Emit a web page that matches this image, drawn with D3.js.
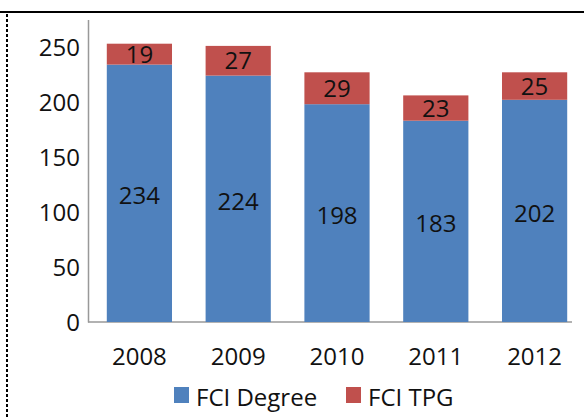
<!DOCTYPE html>
<html>
<head>
<meta charset="utf-8">
<script src="https://cdn.jsdelivr.net/npm/d3@7"></script>
<style>
  body { margin: 0; background: #fff; }
  text { font-family: "Open Sans", "DejaVu Sans", sans-serif; fill: #111; }
</style>
</head>
<body>
<div id="chart"></div>
<script>
// values
var years = ["2008", "2009", "2010", "2011", "2012"];
var degree = [234, 224, 198, 183, 202];
var tpg = [19, 27, 29, 23, 25];
var yTicks = [0, 50, 100, 150, 200, 250];
var seriesNames = ["FCI Degree", "FCI TPG"];
var seriesColors = ["#4F81BD", "#C0504D"];

var width = 584, height = 419;

var svg = d3.select("#chart").append("svg")
    .attr("width", width)
    .attr("height", height);

// frame: solid top rule, dotted left rule
svg.append("line")
    .attr("x1", 0).attr("x2", width)
    .attr("y1", 12).attr("y2", 12)
    .attr("stroke", "#000").attr("stroke-width", 2);
svg.append("line")
    .attr("x1", 7).attr("x2", 7)
    .attr("y1", 14).attr("y2", height)
    .attr("stroke", "#000").attr("stroke-width", 2)
    .attr("stroke-dasharray", "3,2");

var x = d3.scaleBand().domain(years).range([90, 584])
    .paddingInner(0.34).paddingOuter(0.17);
var y = d3.scaleLinear().domain([0, 275]).range([322, 19.5]);

var data = years.map(function(yr, i) {
    return { year: yr, degree: degree[i], tpg: tpg[i] };
});

// axes
var yAxis = svg.append("g")
    .attr("transform", "translate(88,0)")
    .call(d3.axisLeft(y).tickValues(yTicks).tickSize(0).tickPadding(8));
yAxis.select(".domain").attr("stroke", "#999").attr("stroke-width", 1.5);
yAxis.selectAll("text").style("font-size", "24px").attr("dy", "0.35em");

svg.append("line")
    .attr("x1", 88).attr("x2", 572)
    .attr("y1", y(0)).attr("y2", y(0))
    .attr("stroke", "#999").attr("stroke-width", 1.5);

svg.selectAll(".xlab")
    .data(years)
    .enter().append("text")
    .attr("class", "xlab")
    .attr("x", function(d) { return x(d) + x.bandwidth() / 2; })
    .attr("y", 365)
    .attr("text-anchor", "middle")
    .style("font-size", "24px")
    .text(function(d) { return d; });

// stacked bars
svg.selectAll(".deg")
    .data(data)
    .enter().append("rect")
    .attr("class", "deg")
    .attr("x", function(d) { return x(d.year); })
    .attr("width", x.bandwidth())
    .attr("y", function(d) { return y(d.degree); })
    .attr("height", function(d) { return y(0) - y(d.degree); })
    .attr("fill", seriesColors[0]);

svg.selectAll(".tpg")
    .data(data)
    .enter().append("rect")
    .attr("class", "tpg")
    .attr("x", function(d) { return x(d.year); })
    .attr("width", x.bandwidth())
    .attr("y", function(d) { return y(d.degree + d.tpg); })
    .attr("height", function(d) { return y(d.degree) - y(d.degree + d.tpg); })
    .attr("fill", seriesColors[1]);

// value labels
svg.selectAll(".degLab")
    .data(data)
    .enter().append("text")
    .attr("class", "degLab")
    .attr("x", function(d) { return x(d.year) + x.bandwidth() / 2; })
    .attr("y", function(d) { return (y(0) + y(d.degree)) / 2; })
    .attr("dy", "0.45em")
    .attr("text-anchor", "middle")
    .style("font-size", "24px")
    .text(function(d) { return d.degree; });

svg.selectAll(".tpgLab")
    .data(data)
    .enter().append("text")
    .attr("class", "tpgLab")
    .attr("x", function(d) { return x(d.year) + x.bandwidth() / 2; })
    .attr("y", function(d) { return (y(d.degree) + y(d.degree + d.tpg)) / 2; })
    .attr("dy", "0.36em")
    .attr("text-anchor", "middle")
    .style("font-size", "24px")
    .text(function(d) { return d.tpg; });

// legend
var legendX = [174, 346];
var legend = svg.selectAll(".legend")
    .data(seriesNames)
    .enter().append("g")
    .attr("class", "legend")
    .attr("transform", function(d, i) { return "translate(" + legendX[i] + ",387)"; });

legend.append("rect")
    .attr("width", 15).attr("height", 16)
    .attr("fill", function(d, i) { return seriesColors[i]; });

legend.append("text")
    .attr("x", 22)
    .attr("y", 11)
    .attr("dy", "0.35em")
    .style("font-size", "24px")
    .text(function(d) { return d; });
</script>
</body>
</html>
